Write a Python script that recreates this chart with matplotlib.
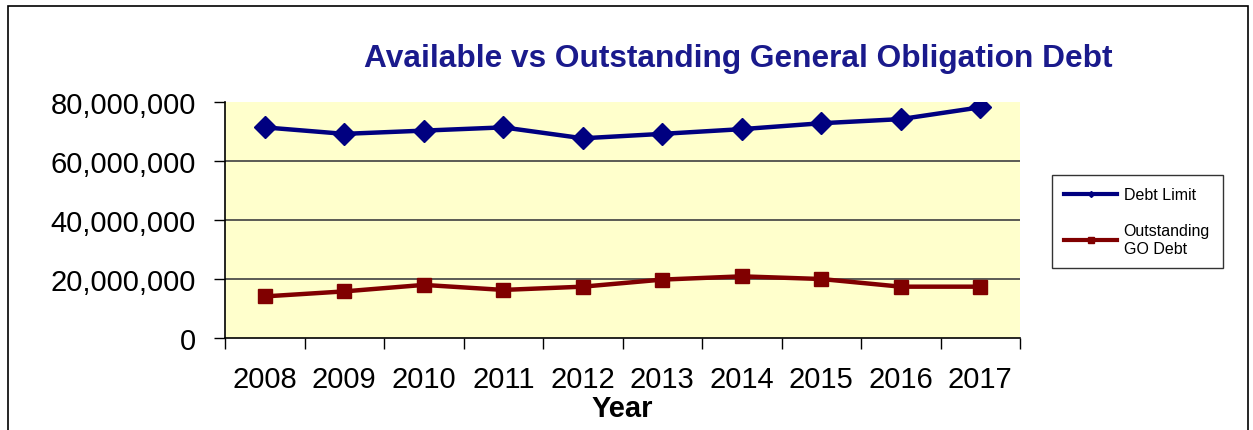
import matplotlib.pyplot as plt
from matplotlib.patches import Rectangle
from matplotlib.lines import Line2D
from matplotlib.ticker import FuncFormatter, FixedLocator

years = ['2008', '2009', '2010', '2011', '2012', '2013', '2014', '2015', '2016', '2017']
debt_limit = [71.5e6, 69.3e6, 70.4e6, 71.5e6, 67.8e6, 69.3e6, 70.9e6, 72.9e6, 74.3e6, 78.3e6]
outstanding_go = [14.2e6, 15.9e6, 18.1e6, 16.4e6, 17.5e6, 19.9e6, 21.0e6, 20.1e6, 17.5e6, 17.5e6]
y_ticks = [0, 20e6, 40e6, 60e6, 80e6]

plt.rcParams['font.family'] = ['Liberation Sans', 'DejaVu Sans']

fig = plt.figure(figsize=(12.53, 4.31), dpi=100)
W, H = 1253, 431

# marco exterior
fig.patches.append(Rectangle((8 / W, -0.01), (1248 - 8) / W, 1 - 7 / H + 0.01,
                             transform=fig.transFigure, fill=False,
                             edgecolor='black', linewidth=1.2))

ax = fig.add_axes([225 / W, 1 - 339.3 / H, (1020 - 225) / W, (339.3 - 103.3) / H])
ax.set_facecolor('#FFFFCC')

x = list(range(len(years)))
ax.plot(x, debt_limit, color='#000080', linewidth=3.2, marker='D', markersize=11,
        label='Debt Limit', zorder=3)
ax.plot(x, outstanding_go, color='#800000', linewidth=3.2, marker='s', markersize=10,
        label='Outstanding\nGO Debt', zorder=3)

ax.set_xlim(-0.5, len(years) - 0.5)
ax.set_ylim(0, 80e6)
ax.set_yticks(y_ticks)
ax.yaxis.set_major_formatter(FuncFormatter(lambda v, p: f'{int(v):,}'))
# rejilla solo en las lineas interiores
for yv in y_ticks[1:-1]:
    ax.axhline(yv, color='#404040', linewidth=1.2, zorder=1)

# ticks en los limites de cada categoria, etiquetas en el centro
ax.xaxis.set_major_locator(FixedLocator([i - 0.5 for i in range(len(years) + 1)]))
ax.xaxis.set_major_formatter(FuncFormatter(lambda v, p: ''))
ax.xaxis.set_minor_locator(FixedLocator(x))
ax.set_xticklabels(years, minor=True)
ax.tick_params(axis='x', which='major', length=8, width=1, direction='out')
ax.tick_params(axis='x', which='minor', length=0, pad=19, labelsize=21)
ax.tick_params(axis='y', length=8, width=1, direction='out', pad=13, labelsize=21)

for s in ['top', 'right']:
    ax.spines[s].set_visible(False)
for s in ['left', 'bottom']:
    ax.spines[s].set_linewidth(1.2)

ax.set_xlabel('Year', fontsize=21, fontweight='bold', labelpad=1)

fig.text(738 / W, 1 - 59 / H, 'Available vs Outstanding General Obligation Debt',
         ha='center', va='center', fontsize=22.8, fontweight='bold', color='#1A1A8C')

handles = [Line2D([], [], color='#000080', linewidth=3, marker='D', markersize=3),
           Line2D([], [], color='#800000', linewidth=3, marker='s', markersize=4)]
leg = fig.legend(handles, ['Debt Limit', 'Outstanding\nGO Debt'],
                 loc='upper left', bbox_to_anchor=(1051.7 / W, 1 - 175.7 / H),
                 fontsize=11.5, frameon=True, fancybox=False, edgecolor='black',
                 handlelength=3.3, handletextpad=0.4, labelspacing=1.3,
                 borderpad=0.8, borderaxespad=0)
leg.get_frame().set_linewidth(1)

fig.savefig('out.png', dpi=100)
